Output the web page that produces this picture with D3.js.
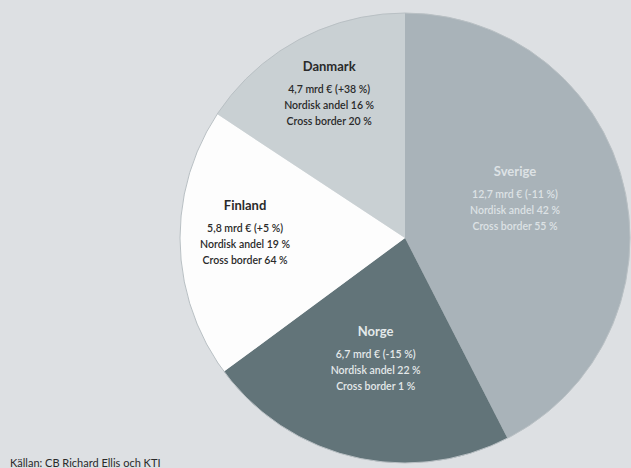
<!DOCTYPE html>
<html>
<head>
<meta charset="utf-8">
<script src="https://cdn.jsdelivr.net/npm/d3@7"></script>
<style>
  html, body { margin: 0; padding: 0; background: #dde0e3; }
  svg { display: block; }
</style>
</head>
<body>
<svg id="chart"></svg>
<script>
const countries = ["Sverige", "Norge", "Finland", "Danmark"];
const volume = [12.7, 6.7, 5.8, 4.7];          // mrd €
const volumeText = ["12,7", "6,7", "5,8", "4,7"];
const change = ["-11 %", "-15 %", "+5 %", "+38 %"];
const nordicShare = [42, 22, 19, 16];
const crossBorder = [55, 1, 64, 20];
const source = "Källan: CB Richard Ellis och KTI";

const width = 631, height = 468;
const cx = 405, cy = 238, radius = 225;
const fills = ["#a9b3b9", "#627479", "#fdfdfd", "#c9d0d3"];
const textFill = ["#dde2e5", "#e4e9ea", "#2a2a2a", "#2a2a2a"];
// label placement: distance from centre along mid-angle, plus a small nudge
const labelR = [108, 128, 160, 160];
const nudge = [[5, -13], [0, -3], [0, -8], [0, -2]];

const svg = d3.select("#chart").attr("width", width).attr("height", height);
const g = svg.append("g").attr("transform", `translate(${cx},${cy})`);

const data = countries.map((c, i) => ({ name: c, value: volume[i], i }));
const pie = d3.pie().value(d => d.value).sort(null);
const arcs = pie(data);
const arc = d3.arc().innerRadius(0).outerRadius(radius);

g.selectAll("path")
  .data(arcs)
  .join("path")
  .attr("d", arc)
  .attr("fill", d => fills[d.data.i]);

g.append("circle")
  .attr("r", radius)
  .attr("fill", "none")
  .attr("stroke", "#b9c0c4")
  .attr("stroke-width", 1);

const label = g.selectAll("g.label")
  .data(arcs)
  .join("g")
  .attr("class", "label")
  .attr("transform", d => {
    const a = (d.startAngle + d.endAngle) / 2;
    const r = labelR[d.data.i];
    const [nx, ny] = nudge[d.data.i];
    return `translate(${Math.sin(a) * r + nx},${-Math.cos(a) * r + ny})`;
  })
  .attr("text-anchor", "middle")
  .attr("font-family", "Lato, 'Open Sans', sans-serif")
  .attr("fill", d => textFill[d.data.i]);

label.append("text")
  .attr("y", -24)
  .attr("font-size", 13)
  .attr("font-weight", "bold")
  .text(d => d.data.name);

const lines = d => [
  `${volumeText[d.data.i]} mrd € (${change[d.data.i]})`,
  `Nordisk andel ${nordicShare[d.data.i]} %`,
  `Cross border ${crossBorder[d.data.i]} %`
];

label.each(function(d) {
  const sel = d3.select(this);
  lines(d).forEach((t, k) => {
    sel.append("text")
      .attr("y", -2 + k * 16)
      .attr("font-size", 10.5)
      .attr("font-weight", 600)
      .text(t);
  });
});

svg.append("text")
  .attr("x", 10)
  .attr("y", 467)
  .attr("font-family", "Lato, 'Open Sans', sans-serif")
  .attr("font-size", 11)
  .attr("fill", "#2a2a2a")
  .text(source);
</script>
</body>
</html>
